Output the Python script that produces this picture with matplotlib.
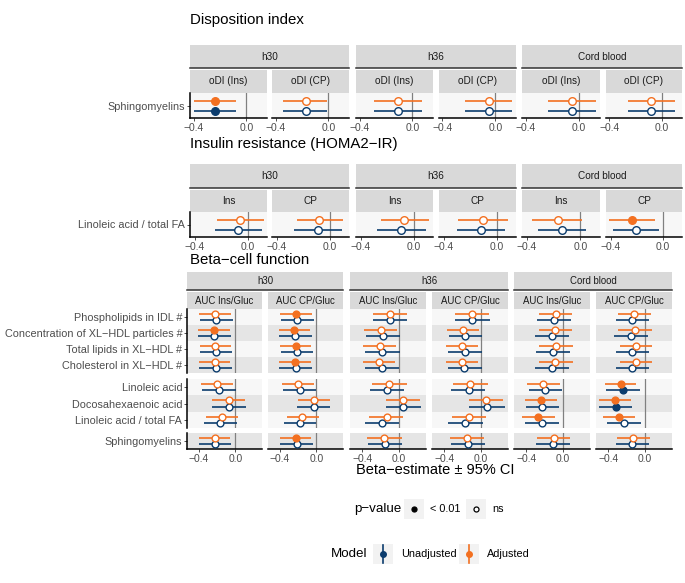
import matplotlib
matplotlib.use('Agg')
import matplotlib.pyplot as plt
from matplotlib.patches import Rectangle
import numpy as np

plt.rcParams['font.family'] = ['Liberation Sans', 'DejaVu Sans']

# ---------------- data ----------------
groups = ['h30', 'h36', 'Cord blood']
xtick_vals = [-0.4, 0.0]
xtick_labels = ['\u22120.4', '0.0']

# disposition index (columns: h30 Ins, h30 CP, h36 Ins, h36 CP, cord Ins, cord CP)
di_cols = ['oDI (Ins)', 'oDI (CP)'] * 3
di_rows = ['Sphingomyelins']
di_adj_est = [[-0.234, -0.17, -0.107, -0.048, -0.055, -0.08]]
di_adj_lo = [[-0.40, -0.345, -0.29, -0.23, -0.23, -0.26]]
di_adj_hi = [[-0.08, -0.007, 0.076, 0.13, 0.128, 0.10]]
di_adj_sig = [[1, 0, 0, 0, 0, 0]]
di_un_est = [[-0.24, -0.17, -0.107, -0.048, -0.055, -0.085]]
di_un_lo = [[-0.40, -0.345, -0.29, -0.23, -0.23, -0.26]]
di_un_hi = [[-0.08, -0.007, 0.076, 0.13, 0.128, 0.10]]
di_un_sig = [[1, 0, 0, 0, 0, 0]]

# insulin resistance
ir_cols = ['Ins', 'CP'] * 3
ir_rows = ['Linoleic acid / total FA']
ir_adj_est = [[-0.06, -0.08, -0.07, -0.10, -0.17, -0.24]]
ir_adj_lo = [[-0.23, -0.25, -0.25, -0.29, -0.36, -0.41]]
ir_adj_hi = [[0.12, 0.10, 0.12, 0.086, 0.01, -0.06]]
ir_adj_sig = [[0, 0, 0, 0, 0, 1]]
ir_un_est = [[-0.076, -0.086, -0.093, -0.12, -0.14, -0.21]]
ir_un_lo = [[-0.25, -0.27, -0.276, -0.30, -0.32, -0.38]]
ir_un_hi = [[0.107, 0.09, 0.093, 0.06, 0.04, -0.03]]
ir_un_sig = [[0, 0, 0, 0, 0, 0]]

# beta-cell function
bc_cols = ['AUC Ins/Gluc', 'AUC CP/Gluc'] * 3
bc_rows = ['Phospholipids in IDL #', 'Concentration of XL\u2212HDL particles #',
           'Total lipids in XL\u2212HDL #', 'Cholesterol in XL\u2212HDL #',
           'Linoleic acid', 'Docosahexaenoic acid', 'Linoleic acid / total FA',
           'Sphingomyelins']
bc_blocks = [4, 3, 1]
bc_adj_est = [[-0.225, -0.229, -0.098, -0.098, -0.076, -0.116],
              [-0.240, -0.247, -0.200, -0.196, -0.084, -0.113],
              [-0.220, -0.229, -0.207, -0.204, -0.076, -0.095],
              [-0.225, -0.233, -0.215, -0.211, -0.084, -0.102],
              [-0.200, -0.200, -0.109, -0.116, -0.215, -0.265],
              [-0.073, -0.029, 0.040, 0.055, -0.236, -0.327],
              [-0.149, -0.153, -0.135, -0.131, -0.273, -0.280],
              [-0.229, -0.229, -0.160, -0.153, -0.102, -0.131]]
bc_adj_lo = [[-0.400, -0.400, -0.280, -0.280, -0.258, -0.295],
             [-0.413, -0.415, -0.378, -0.371, -0.265, -0.291],
             [-0.393, -0.400, -0.389, -0.378, -0.258, -0.276],
             [-0.400, -0.407, -0.389, -0.382, -0.258, -0.276],
             [-0.382, -0.378, -0.298, -0.305, -0.393, -0.436],
             [-0.255, -0.207, -0.142, -0.127, -0.411, -0.495],
             [-0.327, -0.327, -0.324, -0.316, -0.447, -0.458],
             [-0.400, -0.400, -0.345, -0.335, -0.280, -0.302]]
bc_adj_hi = [[-0.047, -0.051, 0.084, 0.084, 0.098, 0.062],
             [-0.062, -0.073, -0.025, -0.025, 0.098, 0.073],
             [-0.047, -0.055, -0.033, -0.033, 0.105, 0.080],
             [-0.055, -0.062, -0.040, -0.036, 0.105, 0.080],
             [-0.025, -0.025, 0.084, 0.073, -0.036, -0.095],
             [0.102, 0.145, 0.229, 0.240, -0.065, -0.156],
             [0.025, 0.029, 0.047, 0.055, -0.091, -0.109],
             [-0.055, -0.055, 0.029, 0.029, 0.073, 0.055]]
bc_adj_sig = [[0, 1, 0, 0, 0, 0],
              [1, 1, 0, 0, 0, 0],
              [0, 1, 0, 0, 0, 0],
              [0, 1, 0, 0, 0, 0],
              [0, 0, 0, 0, 0, 1],
              [0, 0, 0, 0, 1, 1],
              [0, 0, 0, 0, 1, 1],
              [0, 1, 0, 0, 0, 0]]
bc_un_est = [[-0.211, -0.211, -0.098, -0.098, -0.098, -0.138],
             [-0.233, -0.233, -0.178, -0.171, -0.116, -0.153],
             [-0.211, -0.218, -0.182, -0.175, -0.113, -0.138],
             [-0.218, -0.225, -0.189, -0.182, -0.116, -0.138],
             [-0.178, -0.182, -0.127, -0.135, -0.193, -0.240],
             [-0.073, -0.029, 0.040, 0.065, -0.229, -0.313],
             [-0.164, -0.175, -0.182, -0.171, -0.229, -0.233],
             [-0.222, -0.218, -0.153, -0.142, -0.109, -0.138]]
bc_un_lo = [[-0.389, -0.389, -0.280, -0.280, -0.280, -0.320],
            [-0.409, -0.407, -0.360, -0.353, -0.301, -0.338],
            [-0.389, -0.393, -0.367, -0.356, -0.295, -0.320],
            [-0.400, -0.407, -0.375, -0.364, -0.301, -0.320],
            [-0.371, -0.364, -0.316, -0.324, -0.375, -0.422],
            [-0.262, -0.211, -0.142, -0.127, -0.404, -0.495],
            [-0.349, -0.353, -0.371, -0.360, -0.411, -0.411],
            [-0.400, -0.400, -0.342, -0.327, -0.291, -0.320]]
bc_un_hi = [[-0.029, -0.029, 0.091, 0.095, 0.091, 0.044],
            [-0.047, -0.044, 0.011, 0.011, 0.069, 0.036],
            [-0.036, -0.036, 0.007, 0.011, 0.073, 0.044],
            [-0.036, -0.044, -0.004, 0.007, 0.069, 0.044],
            [0.004, 0.000, 0.055, 0.047, -0.011, -0.058],
            [0.116, 0.153, 0.236, 0.255, -0.047, -0.138],
            [0.018, 0.000, 0.004, 0.018, -0.047, -0.047],
            [-0.047, -0.036, 0.036, 0.047, 0.073, 0.044]]
bc_un_sig = [[0, 0, 0, 0, 0, 0],
             [0, 0, 0, 0, 0, 0],
             [0, 0, 0, 0, 0, 0],
             [0, 0, 0, 0, 0, 0],
             [0, 0, 0, 0, 0, 1],
             [0, 0, 0, 0, 0, 1],
             [0, 0, 0, 0, 0, 0],
             [0, 0, 0, 0, 0, 0]]

# ---------------- style ----------------
NAVY = '#0b3c6d'
ORANGE = '#f37021'
STRIP = '#d9d9d9'
LIGHT = '#f7f7f7'
DARK = '#e5e5e5'
TXT = '#4d4d4d'

W, H = 685, 583
fig = plt.figure(figsize=(W / 100, H / 100), dpi=100)


def box(x0, y0, x1, y1):
    return [x0 / W, 1 - y1 / H, (x1 - x0) / W, (y1 - y0) / H]


ov = fig.add_axes([0, 0, 1, 1])
ov.set_xlim(0, W)
ov.set_ylim(H, 0)
ov.axis('off')


def strip(x0, y0, x1, y1, label, fs, line=False):
    a = fig.add_axes(box(x0, y0, x1, y1))
    a.set_facecolor(STRIP)
    a.set_xticks([])
    a.set_yticks([])
    for s in a.spines.values():
        s.set_visible(False)
    if line:
        a.spines['bottom'].set_visible(True)
        a.spines['bottom'].set_color('#333333')
        a.spines['bottom'].set_linewidth(1.1)
    a.text(0.5, 0.5, label, ha='center', va='center', fontsize=fs,
           color='#1a1a1a', transform=a.transAxes)


def section(title, ty, cols_x, outer, inner, panels, blocks, rows, cols,
            adj, un, fs_strip=7.0, msize=26):
    ov.text(190, ty, title, fontsize=10.8, va='center', ha='left',
            color='black')
    for g in range(3):
        strip(cols_x[2 * g][0], outer[0], cols_x[2 * g + 1][1], outer[1],
              groups[g], fs_strip, line=True)
    for j in range(6):
        strip(cols_x[j][0], inner[0], cols_x[j][1], inner[1], cols[j], fs_strip)

    allv = np.array(adj[1] + adj[2] + un[1] + un[2], dtype=float)
    span = allv.max() - allv.min()
    xlim = (allv.min() - 0.05 * span, allv.max() + 0.05 * span)

    start = 0
    for b, (py0, py1) in zip(blocks, panels):
        idx = list(range(start, start + b))
        start += b
        last = (py1 == panels[-1][1])
        for j in range(6):
            ax = fig.add_axes(box(cols_x[j][0], py0, cols_x[j][1], py1))
            ax.set_facecolor('white')
            ys = np.arange(1, b + 1)
            for k, r in enumerate(idx):
                ax.axhspan(ys[k] - 0.5, ys[k] + 0.5, color=LIGHT if r % 2 == 0 else DARK,
                           lw=0, zorder=0)
            ax.axvline(0, color='#808080', lw=0.9, zorder=1)
            for data, col, off in [(un, NAVY, 0.2), (adj, ORANGE, -0.2)]:
                est = np.array([data[0][r][j] for r in idx])
                lo = np.array([data[1][r][j] for r in idx])
                hi = np.array([data[2][r][j] for r in idx])
                sig = np.array([data[3][r][j] for r in idx]) == 1
                yy = ys + off
                ax.hlines(yy, lo, hi, color=col, lw=1.2, zorder=2)
                ax.scatter(est[sig], yy[sig], s=msize, facecolor=col, edgecolor=col,
                           lw=1.0, zorder=3)
                ax.scatter(est[~sig], yy[~sig], s=msize, facecolor='white',
                           edgecolor=col, lw=1.0, zorder=3)
            ax.set_xlim(xlim)
            ax.set_ylim(b + 0.5, 0.5)
            for s in ax.spines.values():
                s.set_visible(False)
            ax.tick_params(colors='#333333', length=2.5, width=0.6,
                           labelcolor=TXT, pad=1.0)
            if last:
                ax.spines['bottom'].set_visible(True)
                ax.spines['bottom'].set_linewidth(1.1)
                ax.spines['bottom'].set_color('black')
                ax.set_xticks(xtick_vals)
                ax.set_xticklabels(xtick_labels, fontsize=7.4)
            else:
                ax.set_xticks([])
            if j == 0:
                ax.spines['left'].set_visible(True)
                ax.spines['left'].set_linewidth(1.1)
                ax.spines['left'].set_color('black')
                ax.set_yticks(ys)
                ax.set_yticklabels([rows[r] for r in idx], fontsize=7.8)
            else:
                ax.set_yticks([])


colsA = [(190, 267), (272, 349), (356, 433), (439, 516), (522, 600), (606, 682)]
colsB = [(187, 262), (268, 343), (350, 426), (432, 508), (514, 590), (596, 672)]

section('Disposition index', 20, colsA, (45, 68), (70, 93), [(93, 118)], [1],
        di_rows, di_cols,
        (di_adj_est, di_adj_lo, di_adj_hi, di_adj_sig),
        (di_un_est, di_un_lo, di_un_hi, di_un_sig), 7.2, 30)
section('Insulin resistance (HOMA2\u2212IR)', 144, colsA, (164, 188), (190, 212),
        [(212, 237)], [1], ir_rows, ir_cols,
        (ir_adj_est, ir_adj_lo, ir_adj_hi, ir_adj_sig),
        (ir_un_est, ir_un_lo, ir_un_hi, ir_un_sig), 7.2, 30)
section('Beta\u2212cell function', 260, colsB, (272, 290), (292, 309),
        [(309, 373), (379, 428), (433, 449)], bc_blocks, bc_rows, bc_cols,
        (bc_adj_est, bc_adj_lo, bc_adj_hi, bc_adj_sig),
        (bc_un_est, bc_un_lo, bc_un_hi, bc_un_sig), 6.9, 24)

ov.text(435, 470, 'Beta\u2212estimate \u00b1 95% CI', fontsize=10.5, ha='center',
        va='center', color='black')

# ---------------- legends ----------------
ov.text(354, 509, 'p\u2212value', fontsize=9.6, ha='left', va='center')
for x0, lab, filled in [(404, '< 0.01', True), (466, 'ns', False)]:
    ov.add_patch(Rectangle((x0, 499), 20, 20, color='#f2f2f2', lw=0))
    ov.plot([x0 + 10], [509], 'o', ms=3.6, mfc='black' if filled else 'white',
            mec='black', mew=0.9)
    ov.text(x0 + 26, 509, lab, fontsize=7.8, ha='left', va='center', color='black')

ov.text(331, 554, 'Model', fontsize=9.6, ha='left', va='center')
for x0, lab, col in [(373, 'Unadjusted', NAVY), (459, 'Adjusted', ORANGE)]:
    ov.add_patch(Rectangle((x0, 544), 20, 20, color='#f2f2f2', lw=0))
    ov.plot([x0 + 10, x0 + 10], [545, 563], color=col, lw=1.2)
    ov.plot([x0 + 10], [554], 'o', ms=4, color=col)
    ov.text(x0 + 28, 554, lab, fontsize=7.8, ha='left', va='center', color='black')

fig.savefig('out.png', dpi=100)
